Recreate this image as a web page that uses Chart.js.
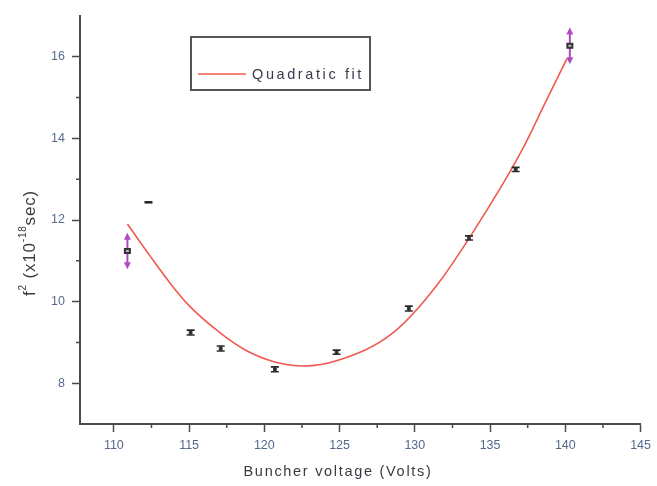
<!DOCTYPE html>
<html>
<head>
<meta charset="utf-8">
<script src="https://cdn.jsdelivr.net/npm/chart.js@4.4.1/dist/chart.umd.min.js"></script>
<style>
  html, body { margin: 0; padding: 0; background: #fff; }
</style>
</head>
<body>
<canvas id="chart" width="657" height="486"></canvas>
<script>
// --- Data ---
const voltage = [110.9, 112.3, 115.1, 117.1, 120.7, 124.8, 129.6, 133.6, 136.7, 140.3];
const tauSq   = [11.24, 12.44, 9.24, 8.85, 8.34, 8.76, 9.83, 11.56, 13.24, 16.27];
const tauErr  = [0.45, 0, 0.06, 0.06, 0.06, 0.05, 0.06, 0.05, 0.05, 0.45];

// quadratic fit curve, sampled by eye
const fitVoltage = [110.9, 112.4, 113.7, 115, 117, 118.7, 120.7, 122.6, 124.9, 128.5, 131.5, 135, 137.1, 138.7, 140.1];
const fitTauSq   = [11.9, 11.12, 10.47, 9.9, 9.25, 8.82, 8.52, 8.42, 8.56, 9.22, 10.42, 12.37, 13.7, 14.9, 15.95];

const xTicks = [110, 115, 120, 125, 130, 135, 140, 145];
const xMinor = [112.5, 117.5, 122.5, 127.5, 132.5, 137.5, 142.5];
const yTicks = [8, 10, 12, 14, 16];
const yMinor = [9, 11, 13, 15];

const fitLabel = 'Quadratic fit';
const xTitle = 'Buncher voltage (Volts)';

const AXIS = '#4a4a4a';
const TICK_TXT = '#56698a';
const FIT_RED = '#f05a50';
const MAGENTA = '#b04ac0';
const FONT = '"Liberation Sans", Arial, sans-serif';

// --- Extra drawing: error bars, minor ticks, titles, legend box ---
const extrasPlugin = {
    id: 'extras',
    afterDatasetsDraw(chart) {
        const ctx = chart.ctx;
        const x = chart.scales.x, y = chart.scales.y;
        ctx.save();
        voltage.forEach((v, i) => {
            const px = x.getPixelForValue(v);
            const py = y.getPixelForValue(tauSq[i]);
            const e = tauErr[i];
            if (e > 0.2) {
                const top = y.getPixelForValue(tauSq[i] + e);
                const bot = y.getPixelForValue(tauSq[i] - e);
                ctx.strokeStyle = MAGENTA;
                ctx.fillStyle = MAGENTA;
                ctx.lineWidth = 2;
                ctx.beginPath();
                ctx.moveTo(px, top + 4); ctx.lineTo(px, bot - 4);
                ctx.stroke();
                ctx.beginPath();
                ctx.moveTo(px, top); ctx.lineTo(px - 3.5, top + 7); ctx.lineTo(px + 3.5, top + 7);
                ctx.closePath(); ctx.fill();
                ctx.beginPath();
                ctx.moveTo(px, bot); ctx.lineTo(px - 3.5, bot - 7); ctx.lineTo(px + 3.5, bot - 7);
                ctx.closePath(); ctx.fill();
                ctx.fillStyle = '#333';
                ctx.fillRect(px - 3.5, py - 3, 7, 6);
                ctx.fillStyle = '#bbb';
                ctx.fillRect(px - 1.5, py - 1, 3, 2);
            } else if (e === 0) {
                ctx.fillStyle = '#222';
                ctx.fillRect(px - 4, py - 1, 8, 2.5);
            } else {
                const top = y.getPixelForValue(tauSq[i] + e);
                const bot = y.getPixelForValue(tauSq[i] - e);
                ctx.strokeStyle = '#2a2a2a';
                ctx.lineWidth = 1.6;
                ctx.beginPath();
                ctx.moveTo(px - 4, top); ctx.lineTo(px + 4, top);
                ctx.moveTo(px - 4, bot); ctx.lineTo(px + 4, bot);
                ctx.moveTo(px, top); ctx.lineTo(px, bot);
                ctx.stroke();
            }
        });
        ctx.restore();
    },
    afterDraw(chart) {
        const ctx = chart.ctx;
        const x = chart.scales.x, y = chart.scales.y;
        const area = chart.chartArea;
        ctx.save();

        // minor ticks
        ctx.strokeStyle = AXIS;
        ctx.lineWidth = 1.5;
        ctx.beginPath();
        xMinor.forEach(v => {
            const px = x.getPixelForValue(v);
            ctx.moveTo(px, area.bottom); ctx.lineTo(px, area.bottom + 4);
        });
        yMinor.forEach(v => {
            const py = y.getPixelForValue(v);
            ctx.moveTo(area.left, py); ctx.lineTo(area.left - 4, py);
        });
        ctx.stroke();

        // x title
        ctx.fillStyle = '#3a3a44';
        ctx.font = '14.5px ' + FONT;
        ctx.letterSpacing = '1.7px';
        ctx.textAlign = 'center';
        ctx.textBaseline = 'middle';
        ctx.fillText(xTitle, 338, 472);

        // y title, rotated, with superscripts
        ctx.translate(30, 243);
        ctx.rotate(-Math.PI / 2);
        ctx.letterSpacing = '0.8px';
        const parts = [
            ['f', 17, 0], ['2', 10, -7], [' (x10', 17, 0], ['-18', 10, -7], ['sec)', 17, 0]
        ];
        let total = 0;
        parts.forEach(p => {
            ctx.font = p[1] + 'px ' + FONT;
            total += ctx.measureText(p[0]).width;
        });
        let cx = -total / 2;
        ctx.textAlign = 'left';
        parts.forEach(p => {
            ctx.font = p[1] + 'px ' + FONT;
            ctx.fillText(p[0], cx, p[2]);
            cx += ctx.measureText(p[0]).width;
        });
        ctx.setTransform(1, 0, 0, 1, 0, 0);

        // legend box
        ctx.strokeStyle = '#555';
        ctx.lineWidth = 2;
        ctx.strokeRect(191, 37, 179, 53);
        ctx.strokeStyle = FIT_RED;
        ctx.lineWidth = 1.5;
        ctx.beginPath();
        ctx.moveTo(198, 74); ctx.lineTo(246, 74);
        ctx.stroke();
        ctx.fillStyle = '#3a3a50';
        ctx.font = '14.5px ' + FONT;
        ctx.letterSpacing = '2.6px';
        ctx.textAlign = 'left';
        ctx.textBaseline = 'middle';
        ctx.fillText(fitLabel, 252, 75);
        ctx.restore();
    }
};

document.addEventListener('DOMContentLoaded', function() {
    const ctx = document.getElementById('chart').getContext('2d');
    Chart.defaults.font.family = FONT;

    new Chart(ctx, {
        type: 'scatter',
        data: {
            datasets: [
                {
                    label: fitLabel,
                    data: fitVoltage.map((v, i) => ({ x: v, y: fitTauSq[i] })),
                    showLine: true,
                    borderColor: FIT_RED,
                    borderWidth: 1.6,
                    pointRadius: 0,
                    cubicInterpolationMode: 'monotone',
                    fill: false
                },
                {
                    label: 'data',
                    data: voltage.map((v, i) => ({ x: v, y: tauSq[i] })),
                    pointStyle: 'rect',
                    pointRadius: c => (tauErr[c.dataIndex] > 0 && tauErr[c.dataIndex] < 0.2) ? 2 : 0,
                    backgroundColor: '#555',
                    borderColor: '#333',
                    borderWidth: 1
                }
            ]
        },
        options: {
            responsive: false,
            animation: false,
            layout: { padding: { top: 16, right: 15, left: 0, bottom: 0 } },
            plugins: {
                legend: { display: false },
                tooltip: { enabled: false }
            },
            scales: {
                x: {
                    type: 'linear',
                    min: 107.75,
                    max: 145,
                    afterFit: s => { s.height = 62; },
                    afterBuildTicks: s => { s.ticks = xTicks.map(v => ({ value: v })); },
                    border: { color: AXIS, width: 2 },
                    grid: { drawOnChartArea: false, drawTicks: true, tickLength: 8, tickColor: AXIS, tickWidth: 1.5 },
                    ticks: { color: TICK_TXT, font: { size: 12.5 }, padding: 6, maxRotation: 0, autoSkip: false }
                },
                y: {
                    type: 'linear',
                    min: 7,
                    max: 17,
                    afterFit: s => { s.width = 80; },
                    afterBuildTicks: s => { s.ticks = yTicks.map(v => ({ value: v })); },
                    border: { color: AXIS, width: 2 },
                    grid: { drawOnChartArea: false, drawTicks: true, tickLength: 8, tickColor: AXIS, tickWidth: 1.5 },
                    ticks: { color: TICK_TXT, font: { size: 12.5 }, padding: 7 }
                }
            }
        },
        plugins: [extrasPlugin]
    });
});
</script>
</body>
</html>
